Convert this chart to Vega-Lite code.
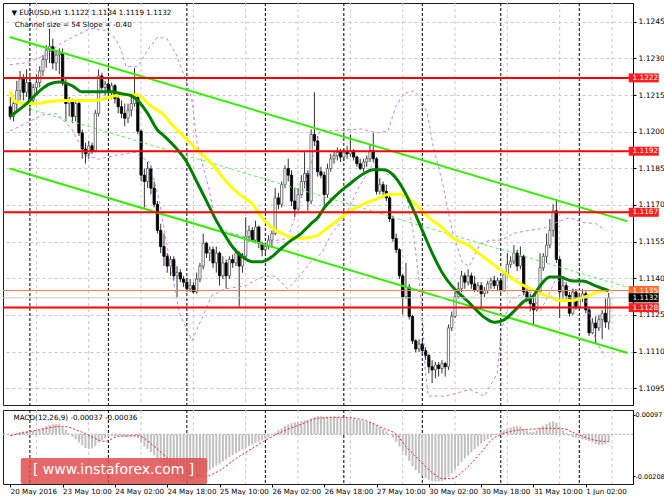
{
  "$schema": "https://vega.github.io/schema/vega-lite/v6.json",
  "padding": {"left": 1, "top": 2, "right": 0, "bottom": 0},
  "background": "#ffffff",
  "spacing": 3,
  "config": {"view": {"stroke": "#222222", "strokeWidth": 1}, "font": "DejaVu Sans"},
  "datasets": {
    "vgrid": [{"k": 8}, {"k": 24}, {"k": 40}, {"k": 56}, {"k": 72}, {"k": 88}, {"k": 104}, {"k": 120}, {"k": 136}, {"k": 152}, {"k": 168}, {"k": 184}],
    "days": [{"k": 6}, {"k": 30}, {"k": 54}, {"k": 78}, {"k": 102}, {"k": 126}, {"k": 150}, {"k": 174}],
    "levels": [
      {"p": 1.1222, "kind": "level"}, {"p": 1.1192, "kind": "level"}, {"p": 1.1167, "kind": "level"},
      {"p": 1.1135, "kind": "ask"}, {"p": 1.1132, "kind": "bid"}, {"p": 1.1128, "kind": "level"}
    ],
    "channel": [
      {"line": "up", "k": -0.2, "p": 1.12387}, {"line": "up", "k": 188.8, "p": 1.11633},
      {"line": "lo", "k": -0.2, "p": 1.11849}, {"line": "lo", "k": 188.8, "p": 1.11094},
      {"line": "mid", "k": 6, "p": 1.12093}, {"line": "mid", "k": 188.8, "p": 1.11363}
    ],
    "ma": [
      {"ma": "g", "k": 0, "p": 1.12063}, {"ma": "g", "k": 5, "p": 1.12115}, {"ma": "g", "k": 9, "p": 1.12167}, {"ma": "g", "k": 12, "p": 1.12195},
      {"ma": "g", "k": 15, "p": 1.12203}, {"ma": "g", "k": 19, "p": 1.12187}, {"ma": "g", "k": 22, "p": 1.12163}, {"ma": "g", "k": 25, "p": 1.12163},
      {"ma": "g", "k": 28, "p": 1.12163}, {"ma": "g", "k": 31, "p": 1.12163}, {"ma": "g", "k": 34, "p": 1.12155}, {"ma": "g", "k": 37, "p": 1.12147},
      {"ma": "g", "k": 39, "p": 1.12127}, {"ma": "g", "k": 42, "p": 1.12075}, {"ma": "g", "k": 45, "p": 1.12007}, {"ma": "g", "k": 47, "p": 1.11983},
      {"ma": "g", "k": 50, "p": 1.11943}, {"ma": "g", "k": 54, "p": 1.11875}, {"ma": "g", "k": 57, "p": 1.11796}, {"ma": "g", "k": 60, "p": 1.11716},
      {"ma": "g", "k": 63, "p": 1.11636}, {"ma": "g", "k": 66, "p": 1.11568}, {"ma": "g", "k": 68, "p": 1.11528}, {"ma": "g", "k": 71, "p": 1.11488},
      {"ma": "g", "k": 74, "p": 1.11468}, {"ma": "g", "k": 77, "p": 1.11468}, {"ma": "g", "k": 80, "p": 1.11488}, {"ma": "g", "k": 83, "p": 1.11524},
      {"ma": "g", "k": 86, "p": 1.11556}, {"ma": "g", "k": 89, "p": 1.11584}, {"ma": "g", "k": 92, "p": 1.11624}, {"ma": "g", "k": 94, "p": 1.11648},
      {"ma": "g", "k": 96, "p": 1.11688}, {"ma": "g", "k": 100, "p": 1.11744}, {"ma": "g", "k": 104, "p": 1.11788}, {"ma": "g", "k": 108, "p": 1.11828},
      {"ma": "g", "k": 111, "p": 1.11844}, {"ma": "g", "k": 114, "p": 1.11844}, {"ma": "g", "k": 117, "p": 1.11824}, {"ma": "g", "k": 120, "p": 1.11768},
      {"ma": "g", "k": 123, "p": 1.11688}, {"ma": "g", "k": 126, "p": 1.11596}, {"ma": "g", "k": 129, "p": 1.11504}, {"ma": "g", "k": 132, "p": 1.11425},
      {"ma": "g", "k": 135, "p": 1.11369}, {"ma": "g", "k": 138, "p": 1.11329}, {"ma": "g", "k": 140, "p": 1.11305}, {"ma": "g", "k": 142, "p": 1.11277},
      {"ma": "g", "k": 145, "p": 1.1124}, {"ma": "g", "k": 148, "p": 1.1122}, {"ma": "g", "k": 151, "p": 1.1123}, {"ma": "g", "k": 154, "p": 1.11265},
      {"ma": "g", "k": 157, "p": 1.11305}, {"ma": "g", "k": 160, "p": 1.11329}, {"ma": "g", "k": 162, "p": 1.11369}, {"ma": "g", "k": 165, "p": 1.11405},
      {"ma": "g", "k": 168, "p": 1.11405}, {"ma": "g", "k": 172, "p": 1.11389}, {"ma": "g", "k": 175, "p": 1.11389}, {"ma": "g", "k": 179, "p": 1.11369},
      {"ma": "g", "k": 183, "p": 1.11349},
      {"ma": "y", "k": 0, "p": 1.12167}, {"ma": "y", "k": 1, "p": 1.12127}, {"ma": "y", "k": 4, "p": 1.12115}, {"ma": "y", "k": 8, "p": 1.12115},
      {"ma": "y", "k": 12, "p": 1.12123}, {"ma": "y", "k": 17, "p": 1.12127}, {"ma": "y", "k": 21, "p": 1.12127}, {"ma": "y", "k": 25, "p": 1.12127},
      {"ma": "y", "k": 29, "p": 1.12135}, {"ma": "y", "k": 32, "p": 1.12147}, {"ma": "y", "k": 35, "p": 1.12151}, {"ma": "y", "k": 38, "p": 1.12151},
      {"ma": "y", "k": 40, "p": 1.12143}, {"ma": "y", "k": 42, "p": 1.12115}, {"ma": "y", "k": 45, "p": 1.12087}, {"ma": "y", "k": 47, "p": 1.12067},
      {"ma": "y", "k": 49, "p": 1.12035}, {"ma": "y", "k": 54, "p": 1.11967}, {"ma": "y", "k": 58, "p": 1.11915}, {"ma": "y", "k": 62, "p": 1.11863},
      {"ma": "y", "k": 66, "p": 1.11796}, {"ma": "y", "k": 70, "p": 1.11744}, {"ma": "y", "k": 74, "p": 1.11704}, {"ma": "y", "k": 77, "p": 1.11648},
      {"ma": "y", "k": 80, "p": 1.11608}, {"ma": "y", "k": 83, "p": 1.11584}, {"ma": "y", "k": 86, "p": 1.11568}, {"ma": "y", "k": 89, "p": 1.11564},
      {"ma": "y", "k": 92, "p": 1.11568}, {"ma": "y", "k": 94, "p": 1.11576}, {"ma": "y", "k": 96, "p": 1.11596}, {"ma": "y", "k": 100, "p": 1.11636},
      {"ma": "y", "k": 104, "p": 1.11676}, {"ma": "y", "k": 108, "p": 1.11704}, {"ma": "y", "k": 112, "p": 1.11724}, {"ma": "y", "k": 116, "p": 1.11744},
      {"ma": "y", "k": 119, "p": 1.11744}, {"ma": "y", "k": 122, "p": 1.11724}, {"ma": "y", "k": 125, "p": 1.11688}, {"ma": "y", "k": 128, "p": 1.11648},
      {"ma": "y", "k": 132, "p": 1.11608}, {"ma": "y", "k": 135, "p": 1.11568}, {"ma": "y", "k": 138, "p": 1.11548}, {"ma": "y", "k": 140, "p": 1.11536},
      {"ma": "y", "k": 143, "p": 1.11504}, {"ma": "y", "k": 147, "p": 1.11464}, {"ma": "y", "k": 151, "p": 1.11425}, {"ma": "y", "k": 155, "p": 1.11385},
      {"ma": "y", "k": 159, "p": 1.11357}, {"ma": "y", "k": 162, "p": 1.11337}, {"ma": "y", "k": 165, "p": 1.11325}, {"ma": "y", "k": 168, "p": 1.11309},
      {"ma": "y", "k": 172, "p": 1.11309}, {"ma": "y", "k": 174, "p": 1.11317}, {"ma": "y", "k": 177, "p": 1.11329}, {"ma": "y", "k": 180, "p": 1.11345},
      {"ma": "y", "k": 183, "p": 1.11349}
    ],
    "bands": [
      {"band": "u", "k": -0.1, "p": 1.12274}, {"band": "u", "k": 5, "p": 1.12282}, {"band": "u", "k": 11, "p": 1.12314}, {"band": "u", "k": 15.6, "p": 1.12362},
      {"band": "u", "k": 20.1, "p": 1.12394}, {"band": "u", "k": 24.6, "p": 1.12422}, {"band": "u", "k": 29.1, "p": 1.12414}, {"band": "u", "k": 32.1, "p": 1.12382},
      {"band": "u", "k": 33.9, "p": 1.12334}, {"band": "u", "k": 35.4, "p": 1.12266}, {"band": "u", "k": 39, "p": 1.12266}, {"band": "u", "k": 42, "p": 1.12334},
      {"band": "u", "k": 45, "p": 1.12386}, {"band": "u", "k": 47.8, "p": 1.12382}, {"band": "u", "k": 50.8, "p": 1.12314}, {"band": "u", "k": 53.8, "p": 1.12207},
      {"band": "u", "k": 55.6, "p": 1.12127}, {"band": "u", "k": 57.1, "p": 1.11955}, {"band": "u", "k": 58.6, "p": 1.11875}, {"band": "u", "k": 60.7, "p": 1.11768},
      {"band": "u", "k": 62.8, "p": 1.11628}, {"band": "u", "k": 66.7, "p": 1.11588}, {"band": "u", "k": 71.2, "p": 1.11572}, {"band": "u", "k": 75.7, "p": 1.11548},
      {"band": "u", "k": 78.8, "p": 1.11544}, {"band": "u", "k": 81.8, "p": 1.11556}, {"band": "u", "k": 84.8, "p": 1.11564}, {"band": "u", "k": 86.9, "p": 1.11644},
      {"band": "u", "k": 88.7, "p": 1.11716}, {"band": "u", "k": 90.8, "p": 1.11816}, {"band": "u", "k": 92.9, "p": 1.11915}, {"band": "u", "k": 94.4, "p": 1.11995},
      {"band": "u", "k": 96.8, "p": 1.12003}, {"band": "u", "k": 102.2, "p": 1.12007}, {"band": "u", "k": 107.3, "p": 1.12011}, {"band": "u", "k": 112.5, "p": 1.11995},
      {"band": "u", "k": 115.5, "p": 1.12003}, {"band": "u", "k": 117.9, "p": 1.12103}, {"band": "u", "k": 120.3, "p": 1.12155}, {"band": "u", "k": 123.3, "p": 1.12167},
      {"band": "u", "k": 125.4, "p": 1.12143}, {"band": "u", "k": 127.5, "p": 1.12075}, {"band": "u", "k": 129.3, "p": 1.11943}, {"band": "u", "k": 132.3, "p": 1.11784},
      {"band": "u", "k": 135.3, "p": 1.11584}, {"band": "u", "k": 138.3, "p": 1.11464}, {"band": "u", "k": 140.4, "p": 1.11449}, {"band": "u", "k": 143.5, "p": 1.11536},
      {"band": "u", "k": 146.5, "p": 1.11556}, {"band": "u", "k": 150.1, "p": 1.11556}, {"band": "u", "k": 154, "p": 1.11584}, {"band": "u", "k": 158.5, "p": 1.11596},
      {"band": "u", "k": 163, "p": 1.11604}, {"band": "u", "k": 166.9, "p": 1.11628}, {"band": "u", "k": 171.1, "p": 1.11648}, {"band": "u", "k": 175.1, "p": 1.11628},
      {"band": "u", "k": 179, "p": 1.11624}, {"band": "u", "k": 182, "p": 1.11596},
      {"band": "l", "k": -0.1, "p": 1.12003}, {"band": "l", "k": 5, "p": 1.12035}, {"band": "l", "k": 9.5, "p": 1.12067}, {"band": "l", "k": 14, "p": 1.12075},
      {"band": "l", "k": 18.6, "p": 1.12015}, {"band": "l", "k": 23.1, "p": 1.11903}, {"band": "l", "k": 27, "p": 1.11887}, {"band": "l", "k": 32.1, "p": 1.11903},
      {"band": "l", "k": 38.1, "p": 1.11915}, {"band": "l", "k": 42.6, "p": 1.11875}, {"band": "l", "k": 45.6, "p": 1.11716}, {"band": "l", "k": 48.7, "p": 1.11476},
      {"band": "l", "k": 51.7, "p": 1.11257}, {"band": "l", "k": 55.6, "p": 1.11145}, {"band": "l", "k": 58.6, "p": 1.11237}, {"band": "l", "k": 61.6, "p": 1.11329},
      {"band": "l", "k": 65.8, "p": 1.11357}, {"band": "l", "k": 71.8, "p": 1.11369}, {"band": "l", "k": 75.7, "p": 1.11397}, {"band": "l", "k": 77.9, "p": 1.11409},
      {"band": "l", "k": 80.9, "p": 1.11409}, {"band": "l", "k": 84.8, "p": 1.11357}, {"band": "l", "k": 87.8, "p": 1.11397}, {"band": "l", "k": 91.7, "p": 1.11464},
      {"band": "l", "k": 95.3, "p": 1.11504}, {"band": "l", "k": 98.3, "p": 1.11584}, {"band": "l", "k": 102.2, "p": 1.11648}, {"band": "l", "k": 106.7, "p": 1.11776},
      {"band": "l", "k": 111.3, "p": 1.11875}, {"band": "l", "k": 115.5, "p": 1.11824}, {"band": "l", "k": 118.5, "p": 1.11808}, {"band": "l", "k": 121.5, "p": 1.11716},
      {"band": "l", "k": 123.3, "p": 1.11584}, {"band": "l", "k": 125.4, "p": 1.11345}, {"band": "l", "k": 126.3, "p": 1.11185}, {"band": "l", "k": 126.9, "p": 1.11026},
      {"band": "l", "k": 127.8, "p": 1.10918}, {"band": "l", "k": 132.9, "p": 1.10918}, {"band": "l", "k": 136.5, "p": 1.1093}, {"band": "l", "k": 140.4, "p": 1.10946},
      {"band": "l", "k": 145, "p": 1.10918}, {"band": "l", "k": 148.9, "p": 1.1101}, {"band": "l", "k": 150.1, "p": 1.11185}, {"band": "l", "k": 153.1, "p": 1.11317},
      {"band": "l", "k": 159.1, "p": 1.11345}, {"band": "l", "k": 162.1, "p": 1.11265}, {"band": "l", "k": 166.9, "p": 1.11397}, {"band": "l", "k": 172, "p": 1.11357},
      {"band": "l", "k": 175.9, "p": 1.11317}, {"band": "l", "k": 179, "p": 1.11145}, {"band": "l", "k": 182, "p": 1.11077}
    ],
    "sig": [
      {"k": 0, "v": -0.00007}, {"k": 8, "v": 0.0002}, {"k": 16, "v": 0.0004}, {"k": 22, "v": 0.0001}, {"k": 29, "v": -0.00035},
      {"k": 33, "v": -0.0001}, {"k": 39, "v": -0.00007}, {"k": 44, "v": -0.0006}, {"k": 49, "v": -0.0013}, {"k": 55, "v": -0.0019},
      {"k": 59, "v": -0.0021}, {"k": 64, "v": -0.0018}, {"k": 69, "v": -0.0012}, {"k": 74, "v": -0.0007}, {"k": 78, "v": -0.0003},
      {"k": 84, "v": 0.0002}, {"k": 89, "v": 0.0005}, {"k": 94, "v": 0.0008}, {"k": 101, "v": 0.00085}, {"k": 106, "v": 0.00078},
      {"k": 110, "v": 0.0006}, {"k": 114, "v": 0.0003}, {"k": 118, "v": 0}, {"k": 121, "v": -0.0006}, {"k": 125, "v": -0.00128},
      {"k": 129, "v": -0.0019}, {"k": 132, "v": -0.0022}, {"k": 135, "v": -0.0022}, {"k": 138, "v": -0.0019}, {"k": 140, "v": -0.0016},
      {"k": 144, "v": -0.0009}, {"k": 147, "v": -0.0003}, {"k": 151, "v": 0.00005}, {"k": 155, "v": 0.0002}, {"k": 159, "v": 0.00025},
      {"k": 165, "v": 0.0003}, {"k": 169, "v": 0.00028}, {"k": 172, "v": 0.0001}, {"k": 175, "v": -0.0001}, {"k": 179, "v": -0.0003},
      {"k": 183, "v": -0.00036}
    ],
    "bars": [
      {"k":0,"o":1.12102,"h":1.12142,"l":1.12049,"c":1.12062,"m":0.00002},
      {"k":1,"o":1.12062,"h":1.12128,"l":1.12042,"c":1.12115,"m":0.00004},
      {"k":2,"o":1.12115,"h":1.12208,"l":1.12088,"c":1.12168,"m":0.00008},
      {"k":3,"o":1.12168,"h":1.12248,"l":1.12128,"c":1.12215,"m":0.00012},
      {"k":4,"o":1.12215,"h":1.12235,"l":1.12128,"c":1.12161,"m":0.00014},
      {"k":5,"o":1.12161,"h":1.12255,"l":1.12142,"c":1.12201,"m":0.00016},
      {"k":6,"o":1.12201,"h":1.12228,"l":1.12075,"c":1.12128,"m":0.00015},
      {"k":7,"o":1.12128,"h":1.12195,"l":1.12115,"c":1.12181,"m":0.00017},
      {"k":8,"o":1.12181,"h":1.12235,"l":1.12161,"c":1.12201,"m":0.0002},
      {"k":9,"o":1.12201,"h":1.12268,"l":1.12181,"c":1.12248,"m":0.00025},
      {"k":10,"o":1.12248,"h":1.12314,"l":1.12228,"c":1.12295,"m":0.00032},
      {"k":11,"o":1.12295,"h":1.12354,"l":1.12261,"c":1.12334,"m":0.0004},
      {"k":12,"o":1.12334,"h":1.12421,"l":1.12281,"c":1.12348,"m":0.00047},
      {"k":13,"o":1.12348,"h":1.12381,"l":1.12255,"c":1.12281,"m":0.0005},
      {"k":14,"o":1.12281,"h":1.12328,"l":1.12248,"c":1.12314,"m":0.00052},
      {"k":15,"o":1.12314,"h":1.12341,"l":1.12235,"c":1.12321,"m":0.0005},
      {"k":16,"o":1.12321,"h":1.12341,"l":1.12188,"c":1.12201,"m":0.0004},
      {"k":17,"o":1.12201,"h":1.12215,"l":1.12042,"c":1.12115,"m":0.00022},
      {"k":18,"o":1.12115,"h":1.12142,"l":1.12062,"c":1.12128,"m":0.00005},
      {"k":19,"o":1.12128,"h":1.12135,"l":1.12035,"c":1.12062,"m":-0.00012},
      {"k":20,"o":1.12062,"h":1.12122,"l":1.12042,"c":1.12115,"m":-0.00025},
      {"k":21,"o":1.12115,"h":1.12122,"l":1.11982,"c":1.11995,"m":-0.0004},
      {"k":22,"o":1.11995,"h":1.12009,"l":1.11889,"c":1.11929,"m":-0.00055},
      {"k":23,"o":1.11929,"h":1.11955,"l":1.11869,"c":1.11909,"m":-0.00068},
      {"k":24,"o":1.11909,"h":1.11962,"l":1.11889,"c":1.11942,"m":-0.00072},
      {"k":25,"o":1.11942,"h":1.11955,"l":1.11909,"c":1.11922,"m":-0.0007},
      {"k":26,"o":1.11922,"h":1.12088,"l":1.11916,"c":1.12075,"m":-0.00058},
      {"k":27,"o":1.12075,"h":1.12255,"l":1.12062,"c":1.12228,"m":-0.0004},
      {"k":28,"o":1.12228,"h":1.12241,"l":1.12168,"c":1.12181,"m":-0.00028},
      {"k":29,"o":1.12181,"h":1.12208,"l":1.12148,"c":1.12195,"m":-0.0002},
      {"k":30,"o":1.12195,"h":1.12208,"l":1.12142,"c":1.12161,"m":-0.00014},
      {"k":31,"o":1.12161,"h":1.12201,"l":1.12135,"c":1.12188,"m":-0.0001},
      {"k":32,"o":1.12188,"h":1.12195,"l":1.12115,"c":1.12135,"m":-0.0001},
      {"k":33,"o":1.12135,"h":1.12155,"l":1.12075,"c":1.12102,"m":-0.0001},
      {"k":34,"o":1.12102,"h":1.12128,"l":1.12055,"c":1.12075,"m":-0.00011},
      {"k":35,"o":1.12075,"h":1.12115,"l":1.12022,"c":1.12055,"m":-0.00013},
      {"k":36,"o":1.12055,"h":1.12115,"l":1.12035,"c":1.12088,"m":-0.00013},
      {"k":37,"o":1.12088,"h":1.12142,"l":1.12062,"c":1.12115,"m":-0.00012},
      {"k":38,"o":1.12115,"h":1.12261,"l":1.12102,"c":1.12142,"m":-0.0001},
      {"k":39,"o":1.12142,"h":1.12155,"l":1.11989,"c":1.12002,"m":-0.00018},
      {"k":40,"o":1.12002,"h":1.12009,"l":1.11796,"c":1.11822,"m":-0.0004},
      {"k":41,"o":1.11822,"h":1.11849,"l":1.1169,"c":1.11796,"m":-0.0006},
      {"k":42,"o":1.11796,"h":1.11876,"l":1.11769,"c":1.11849,"m":-0.00072},
      {"k":43,"o":1.11849,"h":1.11862,"l":1.11743,"c":1.11769,"m":-0.00088},
      {"k":44,"o":1.11769,"h":1.11796,"l":1.1169,"c":1.11703,"m":-0.00105},
      {"k":45,"o":1.11703,"h":1.11716,"l":1.11583,"c":1.11596,"m":-0.00125},
      {"k":46,"o":1.11596,"h":1.11623,"l":1.11503,"c":1.1153,"m":-0.00145},
      {"k":47,"o":1.1153,"h":1.11583,"l":1.1145,"c":1.1149,"m":-0.00165},
      {"k":48,"o":1.1149,"h":1.11503,"l":1.11423,"c":1.1145,"m":-0.00182},
      {"k":49,"o":1.1145,"h":1.1149,"l":1.1141,"c":1.11477,"m":-0.00197},
      {"k":50,"o":1.11477,"h":1.1149,"l":1.1139,"c":1.1141,"m":-0.0021},
      {"k":51,"o":1.1141,"h":1.1145,"l":1.11324,"c":1.11423,"m":-0.0022},
      {"k":52,"o":1.11423,"h":1.11437,"l":1.11384,"c":1.11397,"m":-0.00228},
      {"k":53,"o":1.11397,"h":1.1141,"l":1.11364,"c":1.11384,"m":-0.00232},
      {"k":54,"o":1.11384,"h":1.11403,"l":1.11344,"c":1.11357,"m":-0.00232},
      {"k":55,"o":1.11357,"h":1.11397,"l":1.11344,"c":1.1137,"m":-0.0023},
      {"k":56,"o":1.1137,"h":1.11384,"l":1.11337,"c":1.11344,"m":-0.00226},
      {"k":57,"o":1.11344,"h":1.11423,"l":1.11337,"c":1.11397,"m":-0.0022},
      {"k":58,"o":1.11397,"h":1.11463,"l":1.11384,"c":1.1145,"m":-0.0021},
      {"k":59,"o":1.1145,"h":1.11583,"l":1.11437,"c":1.11543,"m":-0.00196},
      {"k":60,"o":1.11543,"h":1.1155,"l":1.11483,"c":1.11503,"m":-0.00186},
      {"k":61,"o":1.11503,"h":1.1153,"l":1.1147,"c":1.11517,"m":-0.00176},
      {"k":62,"o":1.11517,"h":1.1153,"l":1.11443,"c":1.11463,"m":-0.00166},
      {"k":63,"o":1.11463,"h":1.1153,"l":1.11423,"c":1.11503,"m":-0.00155},
      {"k":64,"o":1.11503,"h":1.1151,"l":1.1137,"c":1.1141,"m":-0.00146},
      {"k":65,"o":1.1141,"h":1.1149,"l":1.11397,"c":1.11463,"m":-0.00135},
      {"k":66,"o":1.11463,"h":1.11477,"l":1.11357,"c":1.1141,"m":-0.00125},
      {"k":67,"o":1.1141,"h":1.1149,"l":1.11397,"c":1.11477,"m":-0.00114},
      {"k":68,"o":1.11477,"h":1.11497,"l":1.11443,"c":1.11463,"m":-0.00104},
      {"k":69,"o":1.11463,"h":1.11517,"l":1.1145,"c":1.11503,"m":-0.00094},
      {"k":70,"o":1.11503,"h":1.1151,"l":1.11284,"c":1.1145,"m":-0.00085},
      {"k":71,"o":1.1145,"h":1.11503,"l":1.11423,"c":1.1149,"m":-0.00076},
      {"k":72,"o":1.1149,"h":1.1165,"l":1.11483,"c":1.1157,"m":-0.00066},
      {"k":73,"o":1.1157,"h":1.11616,"l":1.1155,"c":1.11596,"m":-0.00057},
      {"k":74,"o":1.11596,"h":1.1161,"l":1.1155,"c":1.11556,"m":-0.0005},
      {"k":75,"o":1.11556,"h":1.11636,"l":1.11543,"c":1.1161,"m":-0.00042},
      {"k":76,"o":1.1161,"h":1.11616,"l":1.11523,"c":1.11543,"m":-0.00036},
      {"k":77,"o":1.11543,"h":1.1155,"l":1.1149,"c":1.11517,"m":-0.0003},
      {"k":78,"o":1.11517,"h":1.11543,"l":1.11503,"c":1.1153,"m":-0.00022},
      {"k":79,"o":1.1153,"h":1.11576,"l":1.11517,"c":1.11556,"m":-0.00013},
      {"k":80,"o":1.11556,"h":1.11596,"l":1.11523,"c":1.11583,"m":-0.00004},
      {"k":81,"o":1.11583,"h":1.11769,"l":1.11576,"c":1.11729,"m":0.00008},
      {"k":82,"o":1.11729,"h":1.11749,"l":1.11683,"c":1.11703,"m":0.0002},
      {"k":83,"o":1.11703,"h":1.11796,"l":1.1169,"c":1.11783,"m":0.0003},
      {"k":84,"o":1.11783,"h":1.11862,"l":1.11769,"c":1.11849,"m":0.00041},
      {"k":85,"o":1.11849,"h":1.11889,"l":1.11796,"c":1.11822,"m":0.0005},
      {"k":86,"o":1.11822,"h":1.11842,"l":1.11696,"c":1.11716,"m":0.00056},
      {"k":87,"o":1.11716,"h":1.11769,"l":1.1165,"c":1.11683,"m":0.0006},
      {"k":88,"o":1.11683,"h":1.11769,"l":1.11676,"c":1.11743,"m":0.00063},
      {"k":89,"o":1.11743,"h":1.11822,"l":1.11729,"c":1.11796,"m":0.00066},
      {"k":90,"o":1.11796,"h":1.11916,"l":1.11769,"c":1.11829,"m":0.0007},
      {"k":91,"o":1.11829,"h":1.11842,"l":1.11676,"c":1.11716,"m":0.00072},
      {"k":92,"o":1.11716,"h":1.12009,"l":1.11703,"c":1.11989,"m":0.00078},
      {"k":93,"o":1.11989,"h":1.12161,"l":1.11942,"c":1.11962,"m":0.00086},
      {"k":94,"o":1.11962,"h":1.11982,"l":1.11816,"c":1.11836,"m":0.0009},
      {"k":95,"o":1.11836,"h":1.11856,"l":1.11809,"c":1.11822,"m":0.0009},
      {"k":96,"o":1.11822,"h":1.11836,"l":1.1169,"c":1.11743,"m":0.00086},
      {"k":97,"o":1.11743,"h":1.11869,"l":1.11729,"c":1.11849,"m":0.00087},
      {"k":98,"o":1.11849,"h":1.11909,"l":1.11836,"c":1.11889,"m":0.00088},
      {"k":99,"o":1.11889,"h":1.11922,"l":1.11869,"c":1.11902,"m":0.00088},
      {"k":100,"o":1.11902,"h":1.11935,"l":1.11882,"c":1.11916,"m":0.00087},
      {"k":101,"o":1.11916,"h":1.11929,"l":1.11876,"c":1.11896,"m":0.00086},
      {"k":102,"o":1.11896,"h":1.11929,"l":1.11882,"c":1.11916,"m":0.00084},
      {"k":103,"o":1.11916,"h":1.11942,"l":1.11889,"c":1.11909,"m":0.00082},
      {"k":104,"o":1.11909,"h":1.11989,"l":1.11896,"c":1.11922,"m":0.0008},
      {"k":105,"o":1.11922,"h":1.11929,"l":1.11882,"c":1.11896,"m":0.00077},
      {"k":106,"o":1.11896,"h":1.11902,"l":1.11856,"c":1.11869,"m":0.00073},
      {"k":107,"o":1.11869,"h":1.11889,"l":1.11842,"c":1.11849,"m":0.0007},
      {"k":108,"o":1.11849,"h":1.11889,"l":1.11836,"c":1.11876,"m":0.00066},
      {"k":109,"o":1.11876,"h":1.11902,"l":1.11856,"c":1.11889,"m":0.00062},
      {"k":110,"o":1.11889,"h":1.11949,"l":1.11876,"c":1.11922,"m":0.0006},
      {"k":111,"o":1.11922,"h":1.11995,"l":1.11876,"c":1.11889,"m":0.00055},
      {"k":112,"o":1.11889,"h":1.11896,"l":1.11743,"c":1.11756,"m":0.00045},
      {"k":113,"o":1.11756,"h":1.11809,"l":1.11743,"c":1.11783,"m":0.00036},
      {"k":114,"o":1.11783,"h":1.11796,"l":1.11729,"c":1.11756,"m":0.00026},
      {"k":115,"o":1.11756,"h":1.11783,"l":1.11716,"c":1.11729,"m":0.00015},
      {"k":116,"o":1.11729,"h":1.11736,"l":1.1163,"c":1.11643,"m":0.00003},
      {"k":117,"o":1.11643,"h":1.11656,"l":1.1155,"c":1.11563,"m":-0.00016},
      {"k":118,"o":1.11563,"h":1.11583,"l":1.11503,"c":1.11517,"m":-0.00036},
      {"k":119,"o":1.11517,"h":1.11523,"l":1.11397,"c":1.1141,"m":-0.0006},
      {"k":120,"o":1.1141,"h":1.11417,"l":1.11251,"c":1.11324,"m":-0.00085},
      {"k":121,"o":1.11324,"h":1.11463,"l":1.11317,"c":1.11364,"m":-0.00105},
      {"k":122,"o":1.11364,"h":1.11377,"l":1.11231,"c":1.11244,"m":-0.00132},
      {"k":123,"o":1.11244,"h":1.11251,"l":1.11131,"c":1.11144,"m":-0.00158},
      {"k":124,"o":1.11144,"h":1.11151,"l":1.11098,"c":1.11111,"m":-0.00178},
      {"k":125,"o":1.11111,"h":1.11151,"l":1.11098,"c":1.11131,"m":-0.00194},
      {"k":126,"o":1.11131,"h":1.11144,"l":1.11084,"c":1.11104,"m":-0.00208},
      {"k":127,"o":1.11104,"h":1.11118,"l":1.11065,"c":1.11084,"m":-0.00218},
      {"k":128,"o":1.11084,"h":1.11091,"l":1.11011,"c":1.11038,"m":-0.00226},
      {"k":129,"o":1.11038,"h":1.11065,"l":1.10971,"c":1.11025,"m":-0.00232},
      {"k":130,"o":1.11025,"h":1.11058,"l":1.10991,"c":1.11045,"m":-0.00234},
      {"k":131,"o":1.11045,"h":1.11058,"l":1.10998,"c":1.11031,"m":-0.00234},
      {"k":132,"o":1.11031,"h":1.11065,"l":1.11011,"c":1.11051,"m":-0.00232},
      {"k":133,"o":1.11051,"h":1.11058,"l":1.10998,"c":1.11038,"m":-0.00228},
      {"k":134,"o":1.11038,"h":1.11211,"l":1.11025,"c":1.11197,"m":-0.00212},
      {"k":135,"o":1.11197,"h":1.11264,"l":1.11184,"c":1.11244,"m":-0.00195},
      {"k":136,"o":1.11244,"h":1.11344,"l":1.11237,"c":1.11324,"m":-0.00175},
      {"k":137,"o":1.11324,"h":1.11384,"l":1.11317,"c":1.11357,"m":-0.00157},
      {"k":138,"o":1.11357,"h":1.1143,"l":1.11344,"c":1.1141,"m":-0.00138},
      {"k":139,"o":1.1141,"h":1.11423,"l":1.11357,"c":1.11384,"m":-0.0012},
      {"k":140,"o":1.11384,"h":1.11437,"l":1.1137,"c":1.1141,"m":-0.00105},
      {"k":141,"o":1.1141,"h":1.11423,"l":1.11357,"c":1.11377,"m":-0.0009},
      {"k":142,"o":1.11377,"h":1.1141,"l":1.11344,"c":1.1135,"m":-0.00074},
      {"k":143,"o":1.1135,"h":1.11384,"l":1.11344,"c":1.1137,"m":-0.0006},
      {"k":144,"o":1.1137,"h":1.11384,"l":1.11271,"c":1.11337,"m":-0.00046},
      {"k":145,"o":1.11337,"h":1.11364,"l":1.11324,"c":1.1135,"m":-0.00035},
      {"k":146,"o":1.1135,"h":1.1139,"l":1.11337,"c":1.11377,"m":-0.00024},
      {"k":147,"o":1.11377,"h":1.11403,"l":1.11357,"c":1.1139,"m":-0.00014},
      {"k":148,"o":1.1139,"h":1.1141,"l":1.11357,"c":1.1137,"m":-0.00005},
      {"k":149,"o":1.1137,"h":1.11403,"l":1.1135,"c":1.1139,"m":0.00004},
      {"k":150,"o":1.1139,"h":1.11397,"l":1.11337,"c":1.1135,"m":0.00012},
      {"k":151,"o":1.1135,"h":1.1143,"l":1.11344,"c":1.11417,"m":0.0002},
      {"k":152,"o":1.11417,"h":1.11503,"l":1.11403,"c":1.11457,"m":0.00028},
      {"k":153,"o":1.11457,"h":1.1149,"l":1.11443,"c":1.1147,"m":0.00034},
      {"k":154,"o":1.1147,"h":1.11536,"l":1.11457,"c":1.11503,"m":0.00038},
      {"k":155,"o":1.11503,"h":1.11517,"l":1.1143,"c":1.1145,"m":0.0004},
      {"k":156,"o":1.1145,"h":1.1153,"l":1.11437,"c":1.1149,"m":0.0004},
      {"k":157,"o":1.1149,"h":1.11497,"l":1.1133,"c":1.11344,"m":0.00028},
      {"k":158,"o":1.11344,"h":1.11364,"l":1.11304,"c":1.11317,"m":0.00018},
      {"k":159,"o":1.11317,"h":1.11337,"l":1.11264,"c":1.11297,"m":0.00012},
      {"k":160,"o":1.11297,"h":1.11324,"l":1.11211,"c":1.11271,"m":0.00012},
      {"k":161,"o":1.11271,"h":1.11357,"l":1.11264,"c":1.11344,"m":0.0002},
      {"k":162,"o":1.11344,"h":1.11503,"l":1.11337,"c":1.11443,"m":0.00032},
      {"k":163,"o":1.11443,"h":1.11503,"l":1.1143,"c":1.1149,"m":0.00042},
      {"k":164,"o":1.1149,"h":1.11583,"l":1.11463,"c":1.11536,"m":0.00052},
      {"k":165,"o":1.11536,"h":1.11643,"l":1.11523,"c":1.11596,"m":0.0006},
      {"k":166,"o":1.11596,"h":1.11703,"l":1.1157,"c":1.11676,"m":0.00064},
      {"k":167,"o":1.11676,"h":1.11723,"l":1.11463,"c":1.11477,"m":0.00058},
      {"k":168,"o":1.11477,"h":1.1149,"l":1.11237,"c":1.11344,"m":0.0004},
      {"k":169,"o":1.11344,"h":1.11397,"l":1.11317,"c":1.1137,"m":0.0002},
      {"k":170,"o":1.1137,"h":1.11384,"l":1.1131,"c":1.1133,"m":0.00006},
      {"k":171,"o":1.1133,"h":1.11344,"l":1.11244,"c":1.11257,"m":-0.00006},
      {"k":172,"o":1.11257,"h":1.11357,"l":1.11251,"c":1.11344,"m":-0.00014},
      {"k":173,"o":1.11344,"h":1.11357,"l":1.11271,"c":1.11284,"m":-0.00016},
      {"k":174,"o":1.11284,"h":1.11337,"l":1.11271,"c":1.11324,"m":-0.0002},
      {"k":175,"o":1.11324,"h":1.11357,"l":1.11304,"c":1.11337,"m":-0.00024},
      {"k":176,"o":1.11337,"h":1.1135,"l":1.11257,"c":1.11271,"m":-0.00028},
      {"k":177,"o":1.11271,"h":1.11284,"l":1.11164,"c":1.11177,"m":-0.00034},
      {"k":178,"o":1.11177,"h":1.11237,"l":1.11171,"c":1.11217,"m":-0.0004},
      {"k":179,"o":1.11217,"h":1.11244,"l":1.11131,"c":1.11197,"m":-0.00048},
      {"k":180,"o":1.11197,"h":1.11251,"l":1.11184,"c":1.11231,"m":-0.00052},
      {"k":181,"o":1.11231,"h":1.11271,"l":1.11151,"c":1.11257,"m":-0.00052},
      {"k":182,"o":1.11257,"h":1.11317,"l":1.11197,"c":1.11221,"m":-0.00048},
      {"k":183,"o":1.1122,"h":1.1134,"l":1.1119,"c":1.1132,"m":-0.00037}
    ]
  },
  "vconcat": [
    {
      "width": 630,
      "height": 402,
      "layer": [
        {
          "data": {"name": "vgrid"},
          "mark": {"type": "rule", "color": "#c8c8c8", "strokeDash": [3, 3], "strokeWidth": 1},
          "encoding": {"x": {"field": "k", "type": "quantitative", "scale": {"domain": [-0.7, 188.9], "nice": false, "zero": false}, "axis": null}}
        },
        {
          "data": {"name": "days"},
          "mark": {"type": "rule", "color": "#000000", "strokeDash": [3, 2], "strokeWidth": 1},
          "encoding": {"x": {"field": "k", "type": "quantitative"}}
        },
        {
          "data": {"name": "bars"},
          "mark": {"type": "rule", "color": "#333333", "strokeWidth": 1},
          "encoding": {
            "x": {"field": "k", "type": "quantitative"},
            "y": {
              "field": "l", "type": "quantitative",
              "scale": {"domain": [1.10902, 1.12506], "nice": false, "zero": false},
              "axis": {
                "orient": "right", "values": [1.1095, 1.111, 1.1125, 1.114, 1.1155, 1.117, 1.1185, 1.12, 1.1215, 1.123, 1.1245],
                "format": ".4f", "grid": true, "gridColor": "#c8c8c8", "gridDash": [3, 3],
                "tickColor": "#000000", "tickSize": 3, "domainColor": "#000000",
                "labelColor": "#000000", "labelFontSize": 7.5, "labelPadding": 2, "title": null
              }
            },
            "y2": {"field": "h"}
          }
        },
        {
          "data": {"name": "bars"},
          "mark": {"type": "bar", "width": 2.3, "strokeWidth": 0.8},
          "encoding": {
            "x": {"field": "k", "type": "quantitative"},
            "y": {"field": "o", "type": "quantitative"},
            "y2": {"field": "c"},
            "fill": {"condition": {"test": "datum.c >= datum.o", "value": "#ffffff"}, "value": "#000000"},
            "stroke": {"condition": {"test": "datum.c >= datum.o", "value": "#555555"}, "value": "#000000"}
          }
        },
        {
          "data": {"name": "bands"},
          "mark": {"type": "line", "color": "#c080f0", "strokeDash": [3, 3], "strokeWidth": 1},
          "encoding": {
            "x": {"field": "k", "type": "quantitative"},
            "y": {"field": "p", "type": "quantitative"},
            "detail": {"field": "band"}
          }
        },
        {
          "data": {"name": "channel"},
          "transform": [{"filter": "datum.line != 'mid'"}],
          "mark": {"type": "line", "color": "#33ee00", "strokeWidth": 2},
          "encoding": {
            "x": {"field": "k", "type": "quantitative"},
            "y": {"field": "p", "type": "quantitative"},
            "detail": {"field": "line"}
          }
        },
        {
          "data": {"name": "channel"},
          "transform": [{"filter": "datum.line == 'mid'"}],
          "mark": {"type": "line", "color": "#55ee55", "strokeWidth": 1, "strokeDash": [3, 3]},
          "encoding": {
            "x": {"field": "k", "type": "quantitative"},
            "y": {"field": "p", "type": "quantitative"}
          }
        },
        {
          "data": {"name": "ma"},
          "transform": [{"filter": "datum.ma == 'y'"}],
          "mark": {"type": "line", "color": "#ffff00", "strokeWidth": 3, "interpolate": "monotone"},
          "encoding": {
            "x": {"field": "k", "type": "quantitative"},
            "y": {"field": "p", "type": "quantitative"}
          }
        },
        {
          "data": {"name": "ma"},
          "transform": [{"filter": "datum.ma == 'g'"}],
          "mark": {"type": "line", "color": "#008000", "strokeWidth": 3, "interpolate": "monotone"},
          "encoding": {
            "x": {"field": "k", "type": "quantitative"},
            "y": {"field": "p", "type": "quantitative"}
          }
        },
        {
          "data": {"name": "levels"},
          "transform": [{"filter": "datum.kind == 'level'"}],
          "mark": {"type": "rule", "color": "#ff0000", "strokeWidth": 2},
          "encoding": {"y": {"field": "p", "type": "quantitative"}}
        },
        {
          "data": {"name": "levels"},
          "transform": [{"filter": "datum.kind != 'level'"}],
          "mark": {"type": "rule", "strokeWidth": 1},
          "encoding": {
            "y": {"field": "p", "type": "quantitative"},
            "color": {"field": "kind", "type": "nominal", "scale": {"domain": ["ask", "bid"], "range": ["#ff7a50", "#c8c8c8"]}, "legend": null}
          }
        },
        {
          "data": {"name": "levels"},
          "mark": {"type": "bar", "height": 9},
          "encoding": {
            "x": {"datum": 189.1},
            "x2": {"datum": 198.3},
            "y": {"field": "p", "type": "quantitative"},
            "fill": {"field": "kind", "type": "nominal", "scale": {"domain": ["level", "ask", "bid"], "range": ["#ff1c1c", "#ff6a2a", "#000000"]}, "legend": null}
          }
        },
        {
          "data": {"name": "levels"},
          "mark": {"type": "text", "align": "left", "baseline": "middle", "color": "#ffffff", "fontSize": 7.3},
          "encoding": {
            "x": {"datum": 190.3},
            "y": {"field": "p", "type": "quantitative"},
            "text": {"field": "p", "type": "quantitative", "format": ".4f"}
          }
        },
        {
          "data": {"values": [{}]},
          "mark": {"type": "text", "align": "left", "baseline": "middle", "color": "#000000", "fontSize": 7.2},
          "encoding": {
            "x": {"datum": 0.36},
            "y": {"datum": 1.12484},
            "text": {"value": "▼ EURUSD,H1  1.1122 1.1134 1.1119 1.1132"}
          }
        },
        {
          "data": {"values": [{}]},
          "mark": {"type": "text", "align": "left", "baseline": "middle", "color": "#000000", "fontSize": 7.2},
          "encoding": {
            "x": {"datum": 1.4},
            "y": {"datum": 1.12436},
            "text": {"value": "Channel size = 54 Slope = -0.40"}
          }
        }
      ]
    },
    {
      "width": 630,
      "height": 74,
      "layer": [
        {
          "data": {"name": "vgrid"},
          "mark": {"type": "rule", "color": "#c8c8c8", "strokeDash": [3, 3], "strokeWidth": 1},
          "encoding": {
            "x": {
              "field": "k", "type": "quantitative",
              "scale": {"domain": [-0.7, 188.9], "nice": false, "zero": false},
              "axis": {
                "orient": "bottom", "values": [0, 16, 32, 48, 64, 80, 96, 112, 128, 144, 160, 176],
                "labelExpr": "['20 May 2016','23 May 10:00','24 May 02:00','24 May 18:00','25 May 10:00','26 May 02:00','26 May 18:00','27 May 10:00','30 May 02:00','30 May 18:00','31 May 10:00','1 Jun 02:00'][round(datum.value / 16)]",
                "labelAlign": "left", "labelFlush": false, "labelOverlap": false, "grid": false, "domain": false,
                "tickColor": "#000000", "tickSize": 3, "labelFontSize": 7.1, "labelColor": "#000000", "labelPadding": 0, "title": null
              }
            }
          }
        },
        {
          "data": {"name": "days"},
          "mark": {"type": "rule", "color": "#000000", "strokeDash": [3, 2], "strokeWidth": 1},
          "encoding": {"x": {"field": "k", "type": "quantitative"}}
        },
        {
          "data": {"values": [{}]},
          "mark": {"type": "rule", "color": "#a8a8a8", "strokeDash": [2, 2], "strokeWidth": 1},
          "encoding": {"y": {"datum": 0}}
        },
        {
          "data": {"name": "bars"},
          "mark": {"type": "bar", "width": 2, "color": "#c0c0c0"},
          "encoding": {
            "x": {"field": "k", "type": "quantitative"},
            "y": {
              "field": "m", "type": "quantitative",
              "scale": {"domain": [-0.00247, 0.00121], "nice": false, "zero": false},
              "axis": {
                "orient": "right", "values": [0.00097, 0, -0.00208],
                "labelExpr": "datum.value == 0 ? '0.00' : replace(format(datum.value, '.5f'), '−', '-')",
                "grid": false, "tickColor": "#000000", "tickSize": 2, "domainColor": "#000000",
                "labelColor": "#000000", "labelFontSize": 6.5, "labelPadding": 0, "title": null
              }
            },
            "y2": {"datum": 0}
          }
        },
        {
          "data": {"name": "sig"},
          "mark": {"type": "line", "color": "#ff2020", "strokeDash": [2, 2], "strokeWidth": 1, "interpolate": "monotone"},
          "encoding": {
            "x": {"field": "k", "type": "quantitative"},
            "y": {"field": "v", "type": "quantitative"}
          }
        },
        {
          "data": {"values": [{}]},
          "mark": {"type": "rect", "color": "#e04848", "opacity": 0.82, "cornerRadius": 2},
          "encoding": {
            "x": {"datum": 3.2},
            "x2": {"datum": 60.2},
            "y": {"datum": -0.00118},
            "y2": {"datum": -0.00247}
          }
        },
        {
          "data": {"values": [{}]},
          "mark": {"type": "text", "align": "center", "baseline": "middle", "color": "#ffffff", "fontSize": 14},
          "encoding": {
            "x": {"datum": 31.6},
            "y": {"datum": -0.00178},
            "text": {"value": "[  www.instaforex.com ]"}
          }
        },
        {
          "data": {"values": [{}]},
          "mark": {"type": "text", "align": "left", "baseline": "middle", "color": "#000000", "fontSize": 7.2},
          "encoding": {
            "x": {"datum": 1.0},
            "y": {"datum": 0.00081},
            "text": {"value": "MACD(12,26,9) -0.00037 -0.00036"}
          }
        }
      ]
    }
  ]
}
